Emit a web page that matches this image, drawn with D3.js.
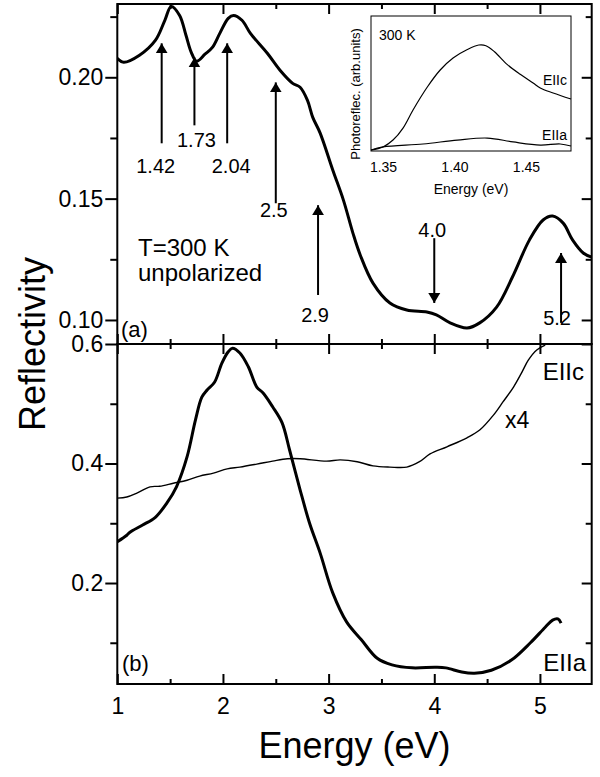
<!DOCTYPE html>
<html>
<head>
<meta charset="utf-8">
<script src="https://cdn.jsdelivr.net/npm/d3@7"></script>
<style>
  body { margin: 0; background: #fff; }
  svg { display: block; font-family: "Liberation Sans", Arial, Helvetica, sans-serif; }
</style>
</head>
<body>
<svg id="chart" width="600" height="777"></svg>
<script>
// (a) unpolarized reflectivity, T = 300 K
var topEnergy = [1.00, 1.06, 1.21, 1.36, 1.45, 1.51, 1.59, 1.65, 1.70, 1.75, 1.83, 1.90, 1.97, 2.05, 2.10,
    2.18, 2.26, 2.42, 2.54, 2.66, 2.73, 2.80, 2.85, 2.92, 3.04, 3.14, 3.23, 3.30, 3.42, 3.58,
    3.74, 3.93, 4.02, 4.15, 4.31, 4.43, 4.59, 4.74, 4.90, 5.03, 5.12, 5.22, 5.31, 5.41, 5.49];
var topRefl = [0.2078, 0.2062, 0.2091, 0.2152, 0.2235, 0.2292, 0.2255, 0.2173, 0.2103, 0.2066, 0.2095,
    0.2123, 0.2181, 0.2243, 0.2255, 0.2235, 0.2181, 0.2099, 0.2029, 0.1975, 0.1959, 0.1905,
    0.1835, 0.1770, 0.1617, 0.1494, 0.1358, 0.1267, 0.1152, 0.1070, 0.1041, 0.1033, 0.1021,
    0.0988, 0.0967, 0.0988, 0.1053, 0.1177, 0.1329, 0.1412, 0.1428, 0.1399, 0.1329, 0.1276, 0.1259];

// (b) E || a (thick)
var ellaEnergy = [1.00, 1.09, 1.12, 1.24, 1.36, 1.47, 1.56, 1.66, 1.74, 1.80, 1.85, 1.92, 1.99, 2.05, 2.09,
    2.16, 2.24, 2.32, 2.38, 2.47, 2.56, 2.63, 2.73, 2.82, 2.92, 3.04, 3.17, 3.31, 3.46, 3.60,
    3.79, 4.01, 4.11, 4.26, 4.38, 4.54, 4.73, 4.91, 5.05, 5.12, 5.17, 5.20];
var ellaRefl = [0.269, 0.280, 0.285, 0.297, 0.310, 0.334, 0.361, 0.411, 0.473, 0.511, 0.523, 0.536, 0.568,
    0.587, 0.593, 0.585, 0.562, 0.528, 0.518, 0.495, 0.468, 0.423, 0.356, 0.300, 0.250, 0.183,
    0.135, 0.105, 0.074, 0.063, 0.058, 0.059, 0.058, 0.051, 0.049, 0.054, 0.071, 0.100, 0.126,
    0.138, 0.140, 0.133];

// (b) E || c (thin, x4)
var ellcEnergy = [1.00, 1.09, 1.19, 1.31, 1.40, 1.53, 1.66, 1.78, 1.91, 2.04, 2.16, 2.32, 2.47, 2.61, 2.73,
    2.98, 3.11, 3.27, 3.42, 3.58, 3.74, 3.86, 3.96, 4.12, 4.31, 4.43, 4.56, 4.65, 4.75, 4.83,
    4.89, 4.97, 5.05];
var ellcRefl = [0.342, 0.344, 0.351, 0.361, 0.362, 0.367, 0.372, 0.379, 0.384, 0.391, 0.394, 0.399, 0.404,
    0.408, 0.408, 0.404, 0.406, 0.403, 0.396, 0.394, 0.394, 0.403, 0.416, 0.428, 0.443, 0.456,
    0.481, 0.503, 0.528, 0.553, 0.573, 0.590, 0.598];

// inset: photoreflectance (arb. units)
var insetEllcEnergy = [1.3416, 1.350, 1.357, 1.364, 1.371, 1.381, 1.390, 1.399, 1.409, 1.417, 1.422, 1.428,
    1.437, 1.446, 1.455, 1.460, 1.469, 1.4815];
var insetEllc = [0.007, 0.030, 0.081, 0.170, 0.304, 0.474, 0.600, 0.689, 0.752, 0.785, 0.780, 0.735,
    0.640, 0.568, 0.504, 0.467, 0.430, 0.385];
var insetEllaEnergy = [1.3416, 1.350, 1.378, 1.402, 1.423, 1.441, 1.460, 1.474, 1.4815];
var insetElla = [0.007, 0.030, 0.052, 0.081, 0.096, 0.067, 0.044, 0.052, 0.037];

// peak arrows in panel (a): energy, arrow tail, arrow tip (reflectivity)
var peakEnergy = [1.42, 1.73, 2.04, 2.5, 2.9, 4.0, 5.2];
var peakLabels = ['1.42', '1.73', '2.04', '2.5', '2.9', '4.0', '5.2'];
var peakTail = [0.1728, 0.1802, 0.1728, 0.1481, 0.1103, 0.1337, 0.0988];
var peakTip = [0.2140, 0.2082, 0.2140, 0.1979, 0.1473, 0.1070, 0.1276];

var xTicks = [1, 2, 3, 4, 5];
var xMinorTicks = [1.5, 2.5, 3.5, 4.5];
var topYTicks = [0.10, 0.15, 0.20];
var topYMinor = [0.125, 0.175, 0.225];
var botYTicks = [0.2, 0.4, 0.6];
var botYMinor = [0.1, 0.3, 0.5];
var insetXTicks = [1.35, 1.40, 1.45];

var left = 117.3, right = 591.7, top1 = 4, mid = 344, bottom2 = 684;

var x = d3.scaleLinear().domain([1, 5.49]).range([left, right]);
var yTop = d3.scaleLinear().domain([0.0901, 0.2302]).range([mid, top1]);
var yBot = d3.scaleLinear().domain([0.031, 0.6]).range([bottom2, mid]);

var svg = d3.select('#chart');

var defs = svg.append('defs');
defs.append('clipPath').attr('id', 'clip-a')
    .append('rect').attr('x', left).attr('y', top1).attr('width', right - left).attr('height', mid - top1);
defs.append('clipPath').attr('id', 'clip-b')
    .append('rect').attr('x', left).attr('y', mid).attr('width', right - left).attr('height', bottom2 - mid);
defs.append('marker')
    .attr('id', 'head')
    .attr('viewBox', '0 0 10 14')
    .attr('refX', 10).attr('refY', 7)
    .attr('markerWidth', 10).attr('markerHeight', 14)
    .attr('markerUnits', 'userSpaceOnUse')
    .attr('orient', 'auto')
    .append('path').attr('d', 'M0,1 L10,7 L0,13 Z').attr('fill', '#000');

function line(xs, ys, yScale, xScale){
    var pts = xs.map(function(d, i){ return [d, ys[i]]; });
    return d3.line()
        .x(function(d){ return (xScale || x)(d[0]); })
        .y(function(d){ return yScale(d[1]); })
        .curve(d3.curveCatmullRom.alpha(0.5))(pts);
}

function styleAxis(g, size){
    g.select('.domain').remove();
    g.selectAll('line').attr('stroke', '#000').attr('stroke-width', 2);
    g.selectAll('text').attr('font-size', size || 23).attr('fill', '#000').attr('font-family', null);
}

function ticks(axis, transform, size){
    var g = svg.append('g').attr('transform', transform).call(axis);
    styleAxis(g, size);
    return g;
}

// ---- axes: panel (a)
ticks(d3.axisLeft(yTop).tickValues(topYTicks).tickSize(12).tickPadding(2).tickFormat(d3.format('.2f')),
    'translate(' + left + ',0)');
ticks(d3.axisLeft(yTop).tickValues(topYMinor).tickSize(7).tickFormat(''), 'translate(' + left + ',0)');
ticks(d3.axisLeft(yTop).tickValues(topYTicks).tickSize(10).tickFormat(''), 'translate(' + right + ',0)');
ticks(d3.axisLeft(yTop).tickValues(topYMinor).tickSize(6).tickFormat(''), 'translate(' + right + ',0)');
ticks(d3.axisTop(x).tickValues(xTicks).tickSize(-10).tickFormat(''), 'translate(0,' + top1 + ')');
ticks(d3.axisTop(x).tickValues(xMinorTicks).tickSize(-5).tickFormat(''), 'translate(0,' + top1 + ')');
ticks(d3.axisBottom(x).tickValues(xTicks).tickSize(-10).tickFormat(''), 'translate(0,' + mid + ')');
ticks(d3.axisBottom(x).tickValues(xMinorTicks).tickSize(-5).tickFormat(''), 'translate(0,' + mid + ')');

// ---- axes: panel (b)
ticks(d3.axisLeft(yBot).tickValues(botYTicks).tickSize(12).tickPadding(2).tickFormat(d3.format('.1f')),
    'translate(' + left + ',0)');
ticks(d3.axisLeft(yBot).tickValues(botYMinor).tickSize(7).tickFormat(''), 'translate(' + left + ',0)');
ticks(d3.axisLeft(yBot).tickValues(botYTicks).tickSize(10).tickFormat(''), 'translate(' + right + ',0)');
ticks(d3.axisLeft(yBot).tickValues(botYMinor).tickSize(6).tickFormat(''), 'translate(' + right + ',0)');
ticks(d3.axisTop(x).tickValues(xTicks).tickSize(-10).tickFormat(''), 'translate(0,' + mid + ')');
ticks(d3.axisTop(x).tickValues(xMinorTicks).tickSize(-5).tickFormat(''), 'translate(0,' + mid + ')');
ticks(d3.axisBottom(x).tickValues(xTicks).tickSize(-10).tickPadding(14).tickFormat(d3.format('d')),
    'translate(0,' + bottom2 + ')');
ticks(d3.axisBottom(x).tickValues(xMinorTicks).tickSize(-5).tickFormat(''), 'translate(0,' + bottom2 + ')');

// frames
svg.append('rect').attr('x', left).attr('y', top1).attr('width', right - left).attr('height', mid - top1)
    .attr('fill', 'none').attr('stroke', '#000').attr('stroke-width', 2);
svg.append('rect').attr('x', left).attr('y', mid).attr('width', right - left).attr('height', bottom2 - mid)
    .attr('fill', 'none').attr('stroke', '#000').attr('stroke-width', 2);

// ---- curves
svg.append('path').attr('d', line(topEnergy, topRefl, yTop)).attr('clip-path', 'url(#clip-a)')
    .attr('fill', 'none').attr('stroke', '#000').attr('stroke-width', 3).attr('stroke-linejoin', 'round');
svg.append('path').attr('d', line(ellaEnergy, ellaRefl, yBot)).attr('clip-path', 'url(#clip-b)')
    .attr('fill', 'none').attr('stroke', '#000').attr('stroke-width', 3).attr('stroke-linejoin', 'round');
svg.append('path').attr('d', line(ellcEnergy, ellcRefl, yBot)).attr('clip-path', 'url(#clip-b)')
    .attr('fill', 'none').attr('stroke', '#000').attr('stroke-width', 1.4);

// ---- peak arrows
var arrows = svg.append('g');
peakEnergy.forEach(function(e, i){
    arrows.append('line')
        .attr('x1', x(e)).attr('y1', yTop(peakTail[i]))
        .attr('x2', x(e)).attr('y2', yTop(peakTip[i]))
        .attr('stroke', '#000').attr('stroke-width', 2)
        .attr('marker-end', 'url(#head)');
});
// label placement (dx px, baseline px) next to each arrow tail
var labelDx = [-6, 2, 4, -2, -3, -2, -4];
var labelY = [173, 147, 173, 217, 322, 237, 325];
peakLabels.forEach(function(t, i){
    arrows.append('text').attr('x', x(peakEnergy[i]) + labelDx[i]).attr('y', labelY[i])
        .attr('text-anchor', 'middle').attr('font-size', 20).text(t);
});

svg.append('text').attr('x', 138).attr('y', 256).attr('font-size', 24).text('T=300 K');
svg.append('text').attr('x', 138).attr('y', 281).attr('font-size', 24).text('unpolarized');
svg.append('text').attr('x', 121).attr('y', 337).attr('font-size', 22).text('(a)');
svg.append('text').attr('x', 122).attr('y', 671).attr('font-size', 22).text('(b)');
svg.append('text').attr('x', 584).attr('y', 380).attr('text-anchor', 'end').attr('font-size', 24).text('EIIc');
svg.append('text').attr('x', 505).attr('y', 428).attr('font-size', 23).text('x4');
svg.append('text').attr('x', 586).attr('y', 671).attr('text-anchor', 'end').attr('font-size', 24).text('EIIa');

// ---- axis titles
svg.append('text').attr('transform', 'translate(45,344) rotate(-90)')
    .attr('text-anchor', 'middle').attr('font-size', 36).text('Reflectivity');
svg.append('text').attr('x', (left + right) / 2).attr('y', 758)
    .attr('text-anchor', 'middle').attr('font-size', 36).text('Energy (eV)');

// ---- inset
var ix = d3.scaleLinear().domain([1.3416, 1.4815]).range([371, 571]);
var iy = d3.scaleLinear().domain([0, 1]).range([151, 16]);
var inset = svg.append('g');
inset.append('rect').attr('x', 371).attr('y', 16).attr('width', 200).attr('height', 135)
    .attr('fill', '#fff').attr('stroke', '#000').attr('stroke-width', 1);
inset.append('path').attr('d', line(insetEllcEnergy, insetEllc, iy, ix))
    .attr('fill', 'none').attr('stroke', '#000').attr('stroke-width', 1.2);
inset.append('path').attr('d', line(insetEllaEnergy, insetElla, iy, ix))
    .attr('fill', 'none').attr('stroke', '#000').attr('stroke-width', 1.2);
var ig = svg.append('g').attr('transform', 'translate(0,151)')
    .call(d3.axisBottom(ix).tickValues(insetXTicks).tickSize(0).tickPadding(11).tickFormat(d3.format('.2f')));
ig.select('.domain').remove();
ig.selectAll('text').attr('font-size', 14).attr('fill', '#000').attr('font-family', null);
inset.append('text').attr('x', 471).attr('y', 194).attr('text-anchor', 'middle').attr('font-size', 14)
    .text('Energy (eV)');
inset.append('text').attr('transform', 'translate(360,94) rotate(-90)').attr('text-anchor', 'middle')
    .attr('font-size', 13).text('Photoreflec. (arb.units)');
inset.append('text').attr('x', 379).attr('y', 40).attr('font-size', 14).text('300 K');
inset.append('text').attr('x', 567).attr('y', 85).attr('text-anchor', 'end').attr('font-size', 14).text('EIIc');
inset.append('text').attr('x', 567).attr('y', 140).attr('text-anchor', 'end').attr('font-size', 14).text('EIIa');
</script>
</body>
</html>
